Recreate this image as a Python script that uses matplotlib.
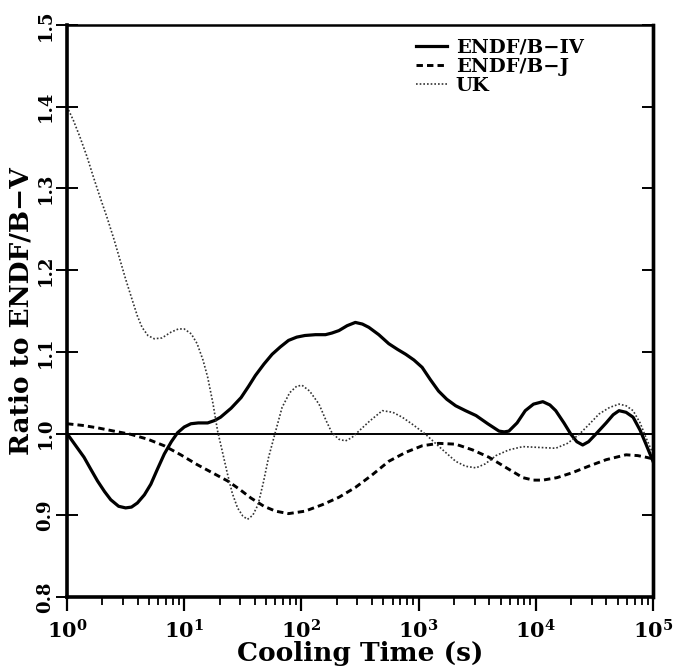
import numpy as np
import matplotlib
matplotlib.use("Agg")
import matplotlib.pyplot as plt
from matplotlib.ticker import FixedLocator, LogLocator, NullFormatter, FuncFormatter

plt.rcParams['font.family'] = ['DejaVu Serif']
plt.rcParams['font.weight'] = 'bold'
plt.rcParams['mathtext.fontset'] = 'dejavuserif'
plt.rcParams['mathtext.default'] = 'bf'

# ---- data (log10 of cooling time in s, ratio to ENDF/B-V) ----
iv_logt = [0.0, 0.07, 0.145, 0.2, 0.26, 0.32, 0.373, 0.44, 0.50, 0.55, 0.60, 0.66, 0.715,
           0.77, 0.83, 0.89, 0.943, 1.0, 1.057, 1.12, 1.2, 1.26, 1.31, 1.4, 1.485, 1.55,
           1.607, 1.68, 1.75, 1.82, 1.89, 1.96, 2.03, 2.12, 2.205, 2.26, 2.32, 2.39, 2.46,
           2.52, 2.575, 2.66, 2.745, 2.82, 2.89, 2.96, 3.03, 3.1, 3.17, 3.24, 3.316, 3.4,
           3.49, 3.59, 3.686, 3.73, 3.77, 3.84, 3.91, 3.98, 4.06, 4.12, 4.17, 4.24, 4.3,
           4.35, 4.4, 4.45, 4.51, 4.6, 4.66, 4.71, 4.77, 4.83, 4.89, 4.94, 5.0]
iv_ratio = [1.0, 0.986, 0.971, 0.957, 0.942, 0.929, 0.919, 0.911, 0.909, 0.910, 0.915, 0.925, 0.938,
            0.956, 0.975, 0.990, 1.001, 1.008, 1.012, 1.013, 1.013, 1.016, 1.02, 1.031, 1.044, 1.058,
            1.071, 1.085, 1.097, 1.106, 1.114, 1.118, 1.12, 1.121, 1.121, 1.123, 1.126, 1.132, 1.136,
            1.134, 1.13, 1.121, 1.11, 1.103, 1.097, 1.09, 1.081, 1.066, 1.052, 1.042, 1.034, 1.028,
            1.022, 1.012, 1.003, 1.002, 1.003, 1.013, 1.028, 1.036, 1.039, 1.035, 1.028, 1.013, 0.999,
            0.990, 0.986, 0.990, 0.999, 1.013, 1.023, 1.028, 1.026, 1.02, 1.004, 0.987, 0.966]

j_logt = [0.0, 0.13, 0.26, 0.4, 0.545, 0.69, 0.83, 0.97, 1.11, 1.24, 1.37, 1.47, 1.57, 1.68,
          1.78, 1.89, 2.03, 2.18, 2.32, 2.46, 2.6, 2.745, 2.89, 3.03, 3.17, 3.316, 3.46, 3.6,
          3.75, 3.89, 3.98, 4.06, 4.18, 4.31, 4.45, 4.6, 4.77, 4.87, 4.94, 5.0]
j_ratio = [1.012, 1.01, 1.007, 1.003, 0.999, 0.993, 0.985, 0.974, 0.962, 0.952, 0.942, 0.932, 0.921, 0.911,
           0.905, 0.902, 0.905, 0.913, 0.922, 0.934, 0.949, 0.966, 0.977, 0.985, 0.988, 0.987, 0.980, 0.971,
           0.958, 0.946, 0.943, 0.943, 0.946, 0.952, 0.96, 0.968, 0.974, 0.973, 0.971, 0.969]

uk_logt = [0.0, 0.055, 0.11, 0.17, 0.225, 0.28, 0.34, 0.4, 0.453, 0.5, 0.553, 0.6, 0.64, 0.69,
           0.744, 0.81, 0.886, 0.95, 1.0, 1.06, 1.11, 1.16, 1.2, 1.245, 1.285, 1.33, 1.37, 1.41,
           1.455, 1.5, 1.54, 1.585, 1.63, 1.675, 1.72, 1.78, 1.835, 1.9, 1.96, 2.006, 2.07, 2.15,
           2.21, 2.26, 2.32, 2.376, 2.43, 2.49, 2.58, 2.69, 2.78, 2.86, 2.96, 3.06, 3.19, 3.316,
           3.4, 3.49, 3.57, 3.66, 3.77, 3.89, 4.03, 4.17, 4.27, 4.37, 4.46, 4.54, 4.63, 4.71,
           4.77, 4.83, 4.89, 4.94, 5.0]
uk_ratio = [1.40, 1.383, 1.363, 1.339, 1.314, 1.290, 1.265, 1.238, 1.212, 1.189, 1.165, 1.144, 1.13, 1.12,
            1.116, 1.117, 1.124, 1.128, 1.128, 1.122, 1.11, 1.09, 1.069, 1.037, 1.003, 0.975, 0.95, 0.927,
            0.909, 0.899, 0.895, 0.9, 0.913, 0.94, 0.971, 1.003, 1.032, 1.05, 1.058, 1.059, 1.052, 1.036,
            1.016, 1.001, 0.993, 0.991, 0.995, 1.003, 1.015, 1.028, 1.026, 1.02, 1.01, 0.999, 0.982, 0.966,
            0.96, 0.958, 0.963, 0.973, 0.98, 0.984, 0.983, 0.982, 0.988, 0.999, 1.012, 1.024, 1.032, 1.036,
            1.034, 1.028, 1.013, 0.995, 0.975]

labels = ["ENDF/B\u2212IV", "ENDF/B\u2212J", "UK"]
x_label = "Cooling Time (s)"
y_label = "Ratio to ENDF/B\u2212V"
y_ticks = [0.8, 0.9, 1.0, 1.1, 1.2, 1.3, 1.4, 1.5]

fig = plt.figure(figsize=(6.73, 6.70), dpi=100)
ax = fig.add_axes([0.0996, 0.109, 0.8707, 0.8537])

ax.axhline(1.0, color='black', lw=1.4, zorder=1)
ax.plot(10 ** np.array(iv_logt), iv_ratio, color='black', lw=2.3, ls='-', label=labels[0])
ax.plot(10 ** np.array(j_logt), j_ratio, color='black', lw=2.1, ls=(0, (2.2, 1.4)), label=labels[1])
ax.plot(10 ** np.array(uk_logt), uk_ratio, color='#333333', lw=1.2, ls=(0, (1, 1.2)), label=labels[2])

ax.set_xscale('log')
ax.set_xlim(1, 1e5)
ax.set_ylim(0.8, 1.5)

ax.xaxis.set_major_locator(LogLocator(base=10, numticks=10))
ax.xaxis.set_minor_locator(LogLocator(base=10, subs=np.arange(2, 10), numticks=10))
ax.xaxis.set_minor_formatter(NullFormatter())
ax.xaxis.set_major_formatter(FuncFormatter(lambda v, p: r'$\mathbf{10^{%d}}$' % int(round(np.log10(v)))))
ax.tick_params(axis='x', which='major', direction='out', length=10, width=1.6, labelsize=15, pad=6, top=False)
ax.tick_params(axis='x', which='minor', direction='out', length=6, width=1.3, top=False)

ax.yaxis.set_major_locator(FixedLocator(y_ticks))
ax.yaxis.set_major_formatter(FuncFormatter(lambda v, p: '%.1f' % v))
ax.tick_params(axis='y', which='major', direction='inout', length=16, width=1.4, labelsize=13,
               left=True, right=False, pad=1)
for lbl in ax.get_yticklabels():
    lbl.set_rotation(90)
    lbl.set_va('center')

sec = ax.secondary_yaxis('right')
sec.yaxis.set_major_locator(FixedLocator(y_ticks))
sec.tick_params(axis='y', direction='in', length=8, width=1.4, labelright=False)
sec.spines['right'].set_linewidth(2.4)

for s in ['left', 'bottom']:
    ax.spines[s].set_linewidth(2.6)
ax.spines['top'].set_linewidth(1.8)
ax.spines['right'].set_linewidth(2.4)

ax.set_xlabel(x_label, fontsize=19, fontweight='bold', labelpad=-1)
ax.set_ylabel(y_label, fontsize=19, fontweight='bold', labelpad=2)

leg = ax.legend(loc='upper right', bbox_to_anchor=(0.905, 1.0), frameon=False, fontsize=14,
                handlelength=1.6, handletextpad=0.45, labelspacing=0.05, borderpad=0.2)

fig.savefig('out.png', dpi=100)
